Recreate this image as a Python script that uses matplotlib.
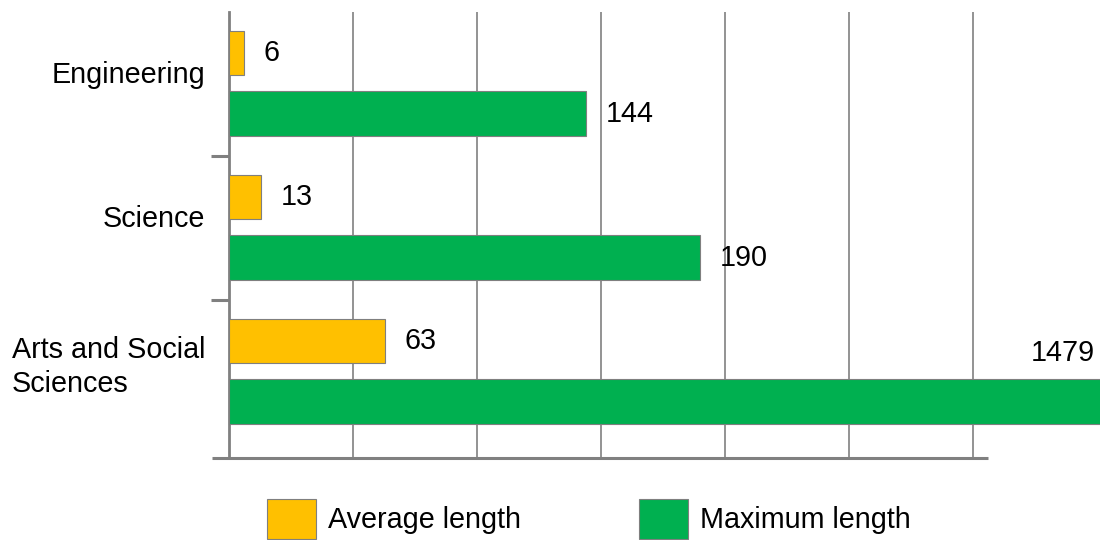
import matplotlib.pyplot as plt
import numpy as np

plt.rcParams['font.family'] = ['Liberation Sans', 'DejaVu Sans']

# data
categories = ['Engineering', 'Science', 'Arts and Social\nSciences']
avg_len = [6, 13, 63]
max_len = [144, 190, 1479]

W, H = 1100, 540
fig = plt.figure(figsize=(W / 100, H / 100), dpi=100)
ax = fig.add_axes([229 / W, 1 - 458 / H, 758 / W, 446 / H])

xmax = 305.6
y = np.arange(len(categories))
bar_h = 0.31
fs = 20.7

avg_bars = ax.barh(y - 0.215, avg_len, height=bar_h, color='#FFC000',
                   edgecolor='#7f7f7f', linewidth=0.8, label='Average length', zorder=3)
# the big bar runs off the plot, like in the original
max_bars = ax.barh(y + 0.205, max_len, height=bar_h, color='#00B050',
                   edgecolor='#7f7f7f', linewidth=0.8, label='Maximum length',
                   zorder=3, clip_on=False)

ax.set_xlim(0, xmax)
ax.set_ylim(2.597, -0.5)

#grid
ax.set_xticks(np.arange(0, 301, 50))
ax.tick_params(axis='x', length=0, labelbottom=False)
ax.grid(axis='x', color='#808080', linewidth=1.2)
ax.set_axisbelow(True)

#category labels + separator ticks
ax.set_yticks(y - 0.08, categories)
ax.tick_params(axis='y', which='major', length=0, pad=17, labelsize=fs)
for lbl in ax.get_yticklabels():
    lbl.set_multialignment('left')
    lbl.set_linespacing(1.3)
ax.set_yticks([0.5, 1.5], minor=True)
ax.tick_params(axis='y', which='minor', length=13, width=2.2, color='#808080')

for s in ['top', 'right', 'bottom']:
    ax.spines[s].set_visible(False)
ax.spines['left'].set_color('#808080')
ax.spines['left'].set_linewidth(2)
ax.plot([-17 / 758, 1.001], [0, 0], transform=ax.transAxes, color='#808080',
        lw=2.2, clip_on=False, solid_capstyle='butt')

#value labels
for bars, vals in [(avg_bars, avg_len), (max_bars, max_len)]:
    for rect, v in zip(bars, vals):
        if v <= xmax:
            ax.annotate(str(v), xy=(v, rect.get_y() + rect.get_height() / 2),
                        xytext=(14, 0), textcoords='offset points',
                        ha='left', va='center', fontsize=fs)
        else:
            ax.annotate(str(v), xy=(1.0, rect.get_y()),
                        xycoords=('figure fraction', 'data'),
                        xytext=(-4, 9), textcoords='offset points',
                        ha='right', va='bottom', fontsize=fs)

fig.legend(handles=[avg_bars, max_bars], loc='center left',
           bbox_to_anchor=(267 / W, 1 - 519 / H), ncol=2, frameon=False,
           fontsize=fs, handlelength=1.7, handleheight=1.75,
           handletextpad=0.42, columnspacing=4.1, borderpad=0, borderaxespad=0)

fig.savefig('out.png', dpi=100)
